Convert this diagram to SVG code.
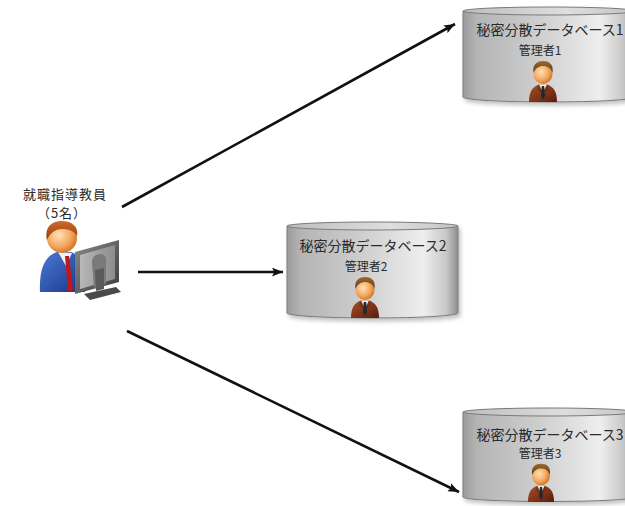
<svg xmlns="http://www.w3.org/2000/svg" width="625" height="506" viewBox="0 0 625 506">
  <style>
    .title { font-family: "Noto Sans CJK JP", "Noto Sans", sans-serif; font-size: 13px; letter-spacing: 1px; fill: #2a2a2a; text-anchor: middle; }
    .sub { font-family: "Noto Sans CJK JP", "Noto Sans", sans-serif; font-size: 12px; fill: #2a2a2a; text-anchor: middle; }
    .label { font-family: "Noto Sans CJK JP", "Noto Sans", sans-serif; font-size: 14px; fill: #2a2a2a; text-anchor: middle; }
    .side { fill: url(#cylSide); stroke: #7a7a7a; stroke-width: 1; }
    .cap { fill: url(#cylTop); stroke: #7a7a7a; stroke-width: 1; }
    .conn { stroke: #111; stroke-width: 2.6; fill: none; marker-end: url(#arrow); }
  </style>
  <defs>
    <linearGradient id="cylSide" x1="0" y1="0" x2="1" y2="0">
      <stop offset="0" stop-color="#9c9c9c"/>
      <stop offset="0.08" stop-color="#b4b4b4"/>
      <stop offset="0.45" stop-color="#cfcfcf"/>
      <stop offset="0.8" stop-color="#eeeeee"/>
      <stop offset="0.93" stop-color="#c8c8c8"/>
      <stop offset="1" stop-color="#8e8e8e"/>
    </linearGradient>
    <linearGradient id="cylTop" x1="0" y1="0" x2="1" y2="0">
      <stop offset="0" stop-color="#bdbdbd"/>
      <stop offset="0.6" stop-color="#dedede"/>
      <stop offset="1" stop-color="#c4c4c4"/>
    </linearGradient>
    <filter id="shadow" x="-10%" y="-10%" width="130%" height="140%">
      <feGaussianBlur in="SourceAlpha" stdDeviation="2"/>
      <feOffset dx="2" dy="3" result="b"/>
      <feComponentTransfer><feFuncA type="linear" slope="0.25"/></feComponentTransfer>
      <feMerge><feMergeNode/><feMergeNode in="SourceGraphic"/></feMerge>
    </filter>
    <marker id="arrow" viewBox="0 0 10 8" refX="10" refY="4" markerWidth="11" markerHeight="9" markerUnits="userSpaceOnUse" orient="auto">
      <path d="M0,0 L10,4 L0,8 L2,4 Z" fill="#111"/>
    </marker>
    <radialGradient id="skin" cx="0.4" cy="0.4" r="0.65">
      <stop offset="0" stop-color="#ffe2b8"/>
      <stop offset="0.6" stop-color="#f4a860"/>
      <stop offset="1" stop-color="#d0701e"/>
    </radialGradient>
    <linearGradient id="suitBrown" x1="0" y1="0" x2="1" y2="1">
      <stop offset="0" stop-color="#a8502a"/>
      <stop offset="1" stop-color="#5a1c0a"/>
    </linearGradient>
    <linearGradient id="hairBrown" x1="0" y1="0" x2="0" y2="1">
      <stop offset="0" stop-color="#9a6a30"/>
      <stop offset="1" stop-color="#5e3a14"/>
    </linearGradient>
    <linearGradient id="suitBlue" x1="0" y1="0" x2="1" y2="1">
      <stop offset="0" stop-color="#4a7ad8"/>
      <stop offset="1" stop-color="#1a3484"/>
    </linearGradient>
    <linearGradient id="hairRed" x1="0" y1="0" x2="0" y2="1">
      <stop offset="0" stop-color="#d06a2a"/>
      <stop offset="1" stop-color="#9a3a10"/>
    </linearGradient>
    <linearGradient id="monitor" x1="0" y1="0" x2="1" y2="1">
      <stop offset="0" stop-color="#8a8a8a"/>
      <stop offset="1" stop-color="#3c3c3c"/>
    </linearGradient>
    <linearGradient id="monitorBack" x1="0" y1="0" x2="1" y2="0">
      <stop offset="0" stop-color="#b8b8b8"/>
      <stop offset="1" stop-color="#8c8c8c"/>
    </linearGradient>
    <!-- businessman icon, 30 x 44 -->
    <symbol id="manager" viewBox="0 0 30 44" overflow="visible">
      <path d="M1,44 C1,34 4,29 11,26.5 L19,26.5 C26,29 29,34 29,44 Z" fill="url(#suitBrown)"/>
      <path d="M11,26.5 L15,34 L19,26.5 Z" fill="#f2f2f2"/>
      <path d="M13.8,28 L16.2,28 L17,38 L15,41.5 L13,38 Z" fill="#1c2a2e"/>
      <path d="M11,26.5 L14,36 L9,31 Z M19,26.5 L16,36 L21,31 Z" fill="#6e2810" opacity="0.6"/>
      <ellipse cx="15" cy="16" rx="9.5" ry="10" fill="url(#skin)"/>
      <path d="M5.5,15 C4,6 9.5,3 15,3 C21,3 26,6 24.5,15 C23,10 19.5,8 15,8 C11,8 7.5,10 5.5,15 Z" fill="url(#hairBrown)"/>
    </symbol>
  </defs>

  <!-- connectors -->
  <g id="connectors">
    <line class="conn" x1="122" y1="207" x2="455" y2="24"/>
    <line class="conn" x1="138" y1="272" x2="283" y2="272"/>
    <line class="conn" x1="127" y1="331" x2="459" y2="492"/>
  </g>

  <!-- teacher at computer -->
  <g id="teacher">
    <text class="title" x="65" y="199">就職指導教員</text>
    <text class="title" x="62" y="218">（5名）</text>
    <path d="M40,292 C39,268 45,256 57,252 L71,252 C79,255 83,262 85,272 L85,292 Z" fill="url(#suitBlue)"/>
    <path d="M58,252 L66,266 L72,253 Z" fill="#f2f2f2"/>
    <path d="M65,256 L69,256 L73,290 L68,292 Z" fill="#c01818"/>
    <ellipse cx="62" cy="238" rx="15" ry="15" fill="url(#skin)"/>
    <path d="M47,240 C44,226 53,221 62,221 C72,221 79,227 77,236 C74,230 67,229 62,229 C55,229 50,233 47,240 Z" fill="url(#hairRed)"/>
    <polygon points="75,252 119,240 119,282 75,294" fill="url(#monitor)"/>
    <polygon points="80,255 115,245 115,279 80,289" fill="url(#monitorBack)"/>
    <path d="M92,262 C92,254 104,251 106,258 L106,284 L94,288 Z" fill="#7a7a7a"/>
    <polygon points="95,270 104,268 104,289 96,291" fill="#5a5a5a"/>
    <polygon points="84,294 116,287 121,292 90,300" fill="#4a4a4a"/>
  </g>

  <!-- database 1 -->
  <g id="db1">
    <g filter="url(#shadow)">
      <path class="side" d="M463,11 L463,97 A86,5 0 0 0 635,97 L635,11 Z"/>
      <ellipse class="cap" cx="549" cy="11" rx="86" ry="4"/>
    </g>
    <text class="label" x="550" y="35">秘密分散データベース1</text>
    <text class="sub" x="540" y="55">管理者1</text>
    <use href="#manager" x="528" y="58" width="30" height="44"/>
  </g>

  <!-- database 2 -->
  <g id="db2">
    <g filter="url(#shadow)">
      <path class="side" d="M287,226 L287,313 A85.5,5 0 0 0 458,313 L458,226 Z"/>
      <ellipse class="cap" cx="372.5" cy="226" rx="85.5" ry="4"/>
    </g>
    <text class="label" x="373" y="251">秘密分散データベース2</text>
    <text class="sub" x="366" y="271">管理者2</text>
    <use href="#manager" x="350" y="274" width="30" height="44"/>
  </g>

  <!-- database 3 -->
  <g id="db3">
    <g filter="url(#shadow)">
      <path class="side" d="M463,412 L463,497 A86,4.5 0 0 0 635,497 L635,412 Z"/>
      <ellipse class="cap" cx="549" cy="412" rx="86" ry="4"/>
    </g>
    <text class="label" x="550" y="440">秘密分散データベース3</text>
    <text class="sub" x="540" y="458">管理者3</text>
    <use href="#manager" x="526" y="461" width="30" height="41"/>
  </g>
</svg>
